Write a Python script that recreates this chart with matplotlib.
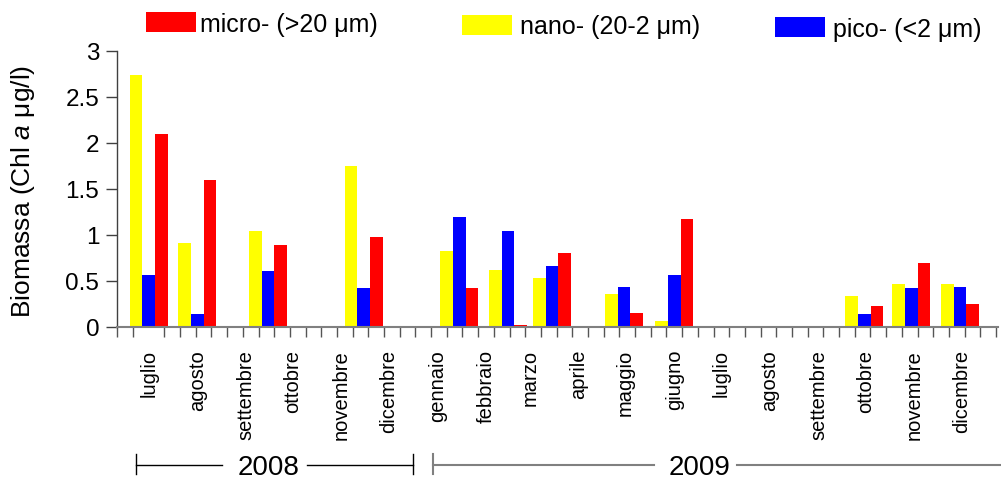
# Biomassa fitoplanctonica per classe dimensionale, luglio 2008 - dicembre 2009
import numpy as np
import matplotlib
matplotlib.use('Agg')
import matplotlib.pyplot as plt
from matplotlib.patches import Rectangle
from matplotlib.lines import Line2D

plt.rcParams['font.family'] = ['Liberation Sans', 'DejaVu Sans']
plt.rcParams['mathtext.fontset'] = 'custom'
plt.rcParams['mathtext.rm'] = 'Liberation Sans'
plt.rcParams['mathtext.it'] = 'Liberation Sans:italic'

# sampling dates and Chl a values (ug/l)
sample_dates = ['2008-07-21', '2008-08-21', '2008-10-05', '2008-12-05',
                '2009-02-04', '2009-03-07', '2009-04-04', '2009-05-20',
                '2009-06-21', '2009-10-20', '2009-11-19', '2009-12-20']
nano = [2.74, 0.91, 1.04, 1.75, 0.82, 0.62, 0.53, 0.36, 0.06, 0.33, 0.46, 0.46]
pico = [0.56, 0.14, 0.61, 0.42, 1.19, 1.04, 0.66, 0.43, 0.56, 0.14, 0.42, 0.43]
micro = [2.09, 1.59, 0.89, 0.98, 0.42, 0.02, 0.80, 0.15, 1.17, 0.22, 0.69, 0.25]

months = ['luglio', 'agosto', 'settembre', 'ottobre', 'novembre', 'dicembre',
          'gennaio', 'febbraio', 'marzo', 'aprile', 'maggio', 'giugno',
          'luglio', 'agosto', 'settembre', 'ottobre', 'novembre', 'dicembre']
years = ['2008', '2009']
legend_labels = ['micro- (>20 \u03bcm)', 'nano- (20-2 \u03bcm)', 'pico- (<2 \u03bcm)']

W, H = 1001, 481


def fx(px):
    return px / W


def fy(py):
    return 1 - py / H


fig = plt.figure(figsize=(W / 100, H / 100), dpi=100)
ax = fig.add_axes([fx(117.3), fy(327.7), fx(998) - fx(117.3), fy(51.7) - fy(327.7)])

origin = np.datetime64('2008-07-01')
days = (np.array(sample_dates, dtype='datetime64[D]') - origin).astype(float)
bw = 8.1
ax.bar(days - bw, nano, width=bw, color='#ffff00', linewidth=0)
ax.bar(days, pico, width=bw, color='#0000ff', linewidth=0)
ax.bar(days + bw, micro, width=bw, color='#ff0000', linewidth=0)

ax.set_xlim(0, 561.3)
ax.set_ylim(0, 3)

# month labels on the 21st, small ticks every 10 days
month_start = np.arange('2008-07', '2010-01', dtype='datetime64[M]').astype('datetime64[D]')
month_pos = (month_start + 20 - origin).astype(float)
ax.set_xticks(month_pos, months)
ax.set_xticks(np.arange(0, 561, 10), minor=True)
ax.tick_params(axis='x', which='major', length=0, pad=16, labelsize=14.5, labelrotation=90)
ax.tick_params(axis='x', which='minor', length=7.5, width=1, color='#555555', direction='out')

ax.set_yticks(np.arange(0, 3.01, 0.5))
ax.yaxis.set_major_formatter(lambda v, p: f'{v:g}')
ax.tick_params(axis='y', length=8, width=1, color='#404040', pad=5, labelsize=17.5)

for s in ['top', 'right']:
    ax.spines[s].set_visible(False)
ax.spines['left'].set_color('#404040')
ax.spines['left'].set_linewidth(1)
ax.spines['bottom'].set_color('#808080')
ax.spines['bottom'].set_linewidth(1.5)

ax.set_ylabel('Biomassa (Chl $\\it{a}$ \u03bcg/l)', fontsize=19)
ax.yaxis.set_label_coords(-0.091, 0.495)

# legend: separate boxes, slightly staggered as in the original
legend_colors = ['#ff0000', '#ffff00', '#0000ff']
legend_boxes = [(146, 13.3), (462.3, 16), (775, 18.3)]
legend_text = [(200, 31.7), (520, 34.3), (833, 36.7)]
for lab, col, (bx, by), (tx, ty) in zip(legend_labels, legend_colors, legend_boxes, legend_text):
    fig.add_artist(Rectangle((fx(bx), fy(by + 20)), fx(50), 20 / H,
                             transform=fig.transFigure, color=col, lw=0))
    fig.text(fx(tx), fy(ty), lab, fontsize=18, va='baseline', ha='left')

# year brackets under the axis
narrow = ['Liberation Sans Narrow', 'Liberation Sans', 'DejaVu Sans']
ly = fy(465.7)
for x0, x1 in [(135.6, 222), (306.7, 413)]:
    fig.add_artist(Line2D([fx(x0), fx(x1)], [ly, ly], color='black', lw=1))
for xb in [135.6, 413]:
    fig.add_artist(Line2D([fx(xb), fx(xb)], [fy(455), fy(475)], color='black', lw=1))
fig.text(fx(268.7), fy(475), years[0], ha='center', va='baseline', fontsize=20, family=narrow)

for x0, x1 in [(433, 654), (737, 1001)]:
    fig.add_artist(Line2D([fx(x0), fx(x1)], [ly, ly], color='#808080', lw=1.5))
fig.add_artist(Line2D([fx(433), fx(433)], [fy(455), fy(475)], color='#808080', lw=1.5))
fig.text(fx(700), fy(475), years[1], ha='center', va='baseline', fontsize=20, family=narrow)

fig.savefig('out.png', dpi=100)
